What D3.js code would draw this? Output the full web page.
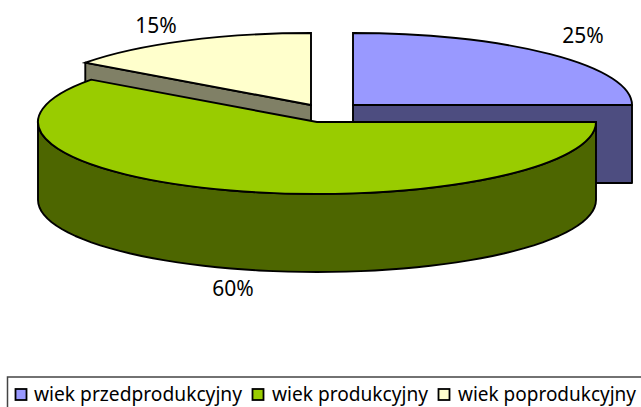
<!DOCTYPE html>
<html>
<head>
<meta charset="utf-8">
<script src="https://cdn.jsdelivr.net/npm/d3@7"></script>
<style>
    html, body { margin: 0; padding: 0; background: #fff; overflow: hidden; }
    svg { display: block; }
    text { font-family: "Noto Sans", sans-serif; fill: #000; }
</style>
</head>
<body>
<div id="chart"></div>
<script>
// Read the data
const categories = ["wiek przedprodukcyjny", "wiek produkcyjny", "wiek poprodukcyjny"];
const shares = [25, 60, 15];
const topColors = ["#9999ff", "#99cc00", "#ffffcc"];
const sideColors = ["#4d4d80", "#4d6600", "#808066"];

const width = 641, height = 407;
const rx = 279, ry = 72, depth = 78;
// each slice is pulled out of the pie, so each one has its own centre
const centres = [[353, 105], [317, 122], [311, 105]];

const svg = d3.select("#chart").append("svg")
    .attr("width", width)
    .attr("height", height);

const pie = d3.pie().sort(null).value(d => d);
const slices = pie(shares);

// The arc is drawn round and squashed into an ellipse by the transform
const arc = d3.arc().innerRadius(0).outerRadius(rx);

// Point on the rim, angle clockwise from 12 o'clock like d3.pie
function rim(i, angle, drop) {
    return [
        centres[i][0] + rx * Math.sin(angle),
        centres[i][1] - ry * Math.cos(angle) + drop
    ];
}

const line = d3.line();
const strokeWidth = 1.9;

function drawWall(points, color) {
    svg.append("path")
        .attr("d", line(points) + "Z")
        .attr("fill", color)
        .attr("stroke", "#000")
        .attr("stroke-width", strokeWidth)
        .attr("stroke-linejoin", "round");
}

function drawTop(i) {
    svg.append("path")
        .attr("transform", "translate(" + centres[i] + ") scale(1," + ry / rx + ")")
        .attr("d", arc(slices[i]))
        .attr("fill", topColors[i])
        .attr("stroke", "#000")
        .attr("stroke-width", strokeWidth)
        .style("vector-effect", "non-scaling-stroke");
}

// Yellow slice: only its cut face towards the viewer shows
const yellow = slices[2];
drawWall([rim(2, yellow.startAngle, 0), centres[2], [centres[2][0], centres[2][1] + depth], rim(2, yellow.startAngle, depth)], sideColors[2]);
drawTop(2);

// Blue slice: cut face on the east side
const blue = slices[0];
drawWall([centres[0], rim(0, blue.endAngle, 0), rim(0, blue.endAngle, depth), [centres[0][0], centres[0][1] + depth]], sideColors[0]);
drawTop(0);

// Green slice: outer wall along the front half of the rim
const green = slices[1];
const frontAngles = d3.range(0, 61).map(k => green.startAngle + k * Math.PI / 60);
drawWall(frontAngles.map(a => rim(1, a, 0)).concat(frontAngles.slice().reverse().map(a => rim(1, a, depth))), sideColors[1]);
drawTop(1);

// Percent labels
const labelPos = [[583, 43], [233, 296], [156, 33]];
svg.selectAll("text.pct")
    .data(shares)
    .enter()
    .append("text")
    .attr("class", "pct")
    .attr("text-anchor", "middle")
    .attr("x", (d, i) => labelPos[i][0])
    .attr("y", (d, i) => labelPos[i][1])
    .attr("font-size", 21)
    .text(d => d + "%");

// Legend, its box runs off the right and bottom of the picture
svg.append("rect")
    .attr("x", 7.5).attr("y", 377)
    .attr("width", 660).attr("height", 60)
    .attr("fill", "#fff")
    .attr("stroke", "#444")
    .attr("stroke-width", 1.5);

const swatchX = [15.5, 252.5, 438.5];
const textX = [34, 272, 458];
const textW = [208, 156, 178];
categories.forEach((name, i) => {
    svg.append("rect")
        .attr("x", swatchX[i]).attr("y", 389)
        .attr("width", 11).attr("height", 11)
        .attr("fill", topColors[i])
        .attr("stroke", "#000")
        .attr("stroke-width", 1.8);
    svg.append("text")
        .attr("x", textX[i])
        .attr("y", 401)
        .attr("font-size", 20)
        .attr("textLength", textW[i])
        .attr("lengthAdjust", "spacingAndGlyphs")
        .text(name);
});
</script>
</body>
</html>
